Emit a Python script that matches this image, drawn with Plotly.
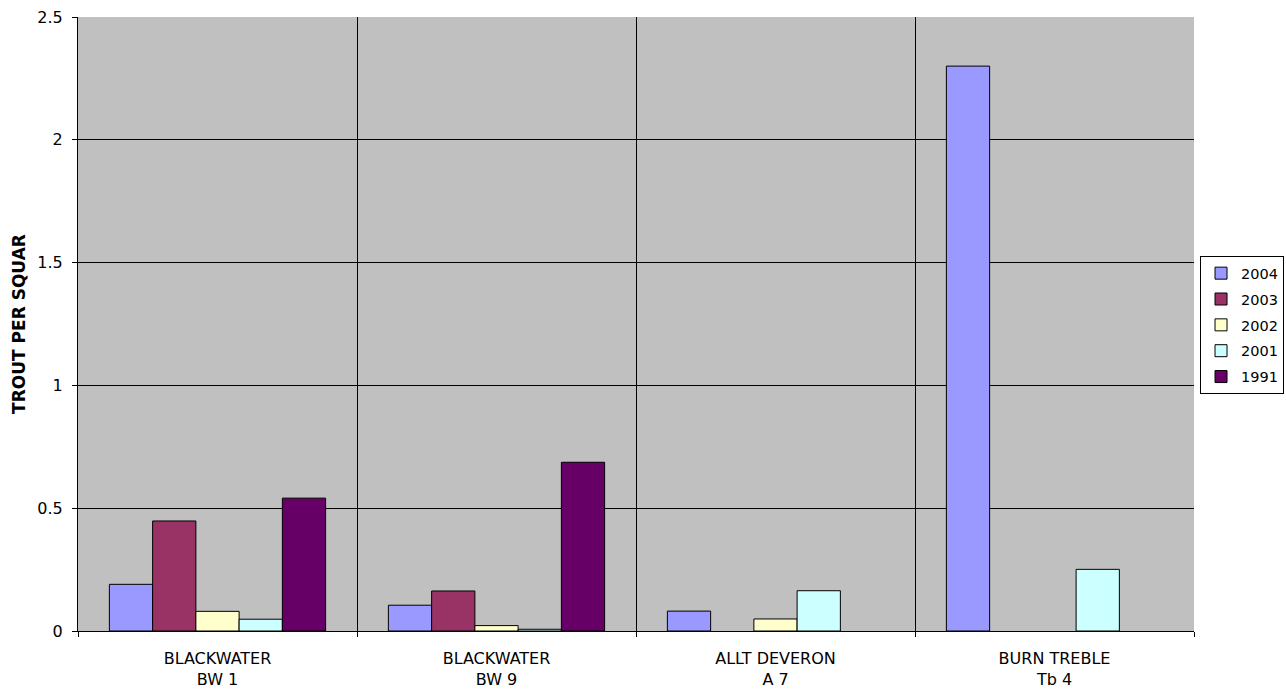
import plotly.graph_objects as go

# Sampling sites (two-line labels) and survey years
sites = ["BLACKWATER<br>BW 1", "BLACKWATER<br>BW 9", "ALLT DEVERON<br>A 7", "BURN TREBLE<br>Tb 4"]
years = ["2004", "2003", "2002", "2001", "1991"]

# Trout density per site for each survey year (None = not surveyed)
trout_2004 = [0.19, 0.105, 0.081, 2.3]
trout_2003 = [0.448, 0.163, None, None]
trout_2002 = [0.08, 0.022, 0.049, None]
trout_2001 = [0.048, 0.007, 0.164, 0.251]
trout_1991 = [0.541, 0.687, None, None]

series = [trout_2004, trout_2003, trout_2002, trout_2001, trout_1991]
colors = ["#9999FF", "#993366", "#FFFFCC", "#CCFFFF", "#660066"]

fig = go.Figure()
for name, vals, col in zip(years, series, colors):
    fig.add_trace(go.Bar(
        x=sites, y=vals, name=name, legendgroup=name,
        marker=dict(color=col, line=dict(color="black", width=1)),
    ))

font = "DejaVu Sans"
fig.update_layout(
    width=1286, height=691,
    margin=dict(l=78, r=92, t=17, b=60, autoexpand=False),
    paper_bgcolor="white",
    plot_bgcolor="#C0C0C0",
    barmode="group",
    bargap=0.225,
    bargroupgap=0,
    font=dict(family=font, size=16, color="black"),
    showlegend=True,
    legend=dict(
        x=1.0054, y=0.498, xanchor="left", yanchor="middle",
        bgcolor="white", bordercolor="black", borderwidth=1,
        font=dict(family=font, size=14.5),
        traceorder="grouped", tracegroupgap=4,
    ),
    xaxis=dict(
        tickson="boundaries", ticks="outside", ticklen=5, tickcolor="black",
        showgrid=True, gridcolor="black", gridwidth=1,
        showline=True, linecolor="black", linewidth=1, mirror=False,
        tickfont=dict(family=font, size=16),
        ticklabelstandoff=13,
    ),
    yaxis=dict(
        range=[0, 2.5], dtick=0.5, ticks="outside", ticklen=5, tickcolor="black",
        showgrid=True, gridcolor="black", gridwidth=1,
        showline=True, linecolor="black", linewidth=1,
        zeroline=False,
        tickfont=dict(family=font, size=16),
        ticklabelstandoff=6,
        title=dict(text="<b>TROUT PER SQUAR</b>", font=dict(family=font, size=17), standoff=7),
    ),
)

fig.write_html("out.html")
